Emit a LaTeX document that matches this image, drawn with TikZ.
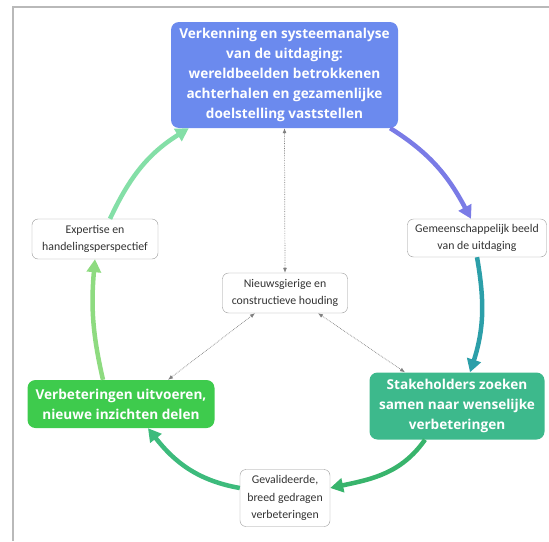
\documentclass[tikz,border=0pt]{standalone}
\usepackage{fontspec}
\setmainfont{Carlito}
\newfontfamily\boldsans{Open Sans Bold}
\usetikzlibrary{arrows.meta}

\definecolor{topblue}{HTML}{6B8AEE}
\definecolor{stakegreen}{HTML}{3DB98C}
\definecolor{doegreen}{HTML}{3ECB4D}
\definecolor{arrowA}{HTML}{7A7BE6}
\definecolor{arrowB}{HTML}{2C9FA9}
\definecolor{arrowC}{HTML}{38B46C}
\definecolor{arrowD}{HTML}{3DBB7C}
\definecolor{arrowE}{HTML}{8EDB80}
\definecolor{arrowF}{HTML}{84DFA7}

\begin{document}
\begin{tikzpicture}[x=1pt,y=1pt,
  bigbox/.style={rounded corners=8pt,text=white,align=center,inner sep=2pt,
    font=\boldsans\fontsize{13.6}{19.8}\selectfont},
  smallbox/.style={draw=gray!80,rounded corners=6pt,fill=white,align=center,
    text=black!80,inner sep=2pt,font=\fontsize{11.8}{17.5}\selectfont},
  cycle/.style={line width=4.5pt,-{Triangle[length=13pt,width=14pt]}},
  hint/.style={gray,densely dotted,line width=0.7pt,{Latex[length=5pt,width=4pt]}-{Latex[length=5pt,width=4pt]}}]
  \useasboundingbox (0,0) rectangle (549,-541);
  \draw[gray!55,line width=1.2pt] (13,-541) -- (13,-7) -- (549,-7);

  \node[bigbox,fill=topblue,minimum width=227,minimum height=106] (verkenning) at (284.5,-75)
    {Verkenning en systeemanalyse\\van de uitdaging:\\wereldbeelden betrokkenen\\achterhalen en gezamenlijke\\doelstelling vaststellen};
  \node[smallbox,minimum width=139,minimum height=38] (beeld) at (477,-238)
    {Gemeenschappelijk beeld\\van de uitdaging};
  \node[bigbox,fill=stakegreen,minimum width=175,minimum height=67] (stakeholders) at (457,-406)
    {Stakeholders zoeken\\samen naar wenselijke\\verbeteringen};
  \node[smallbox,minimum width=90,minimum height=57] (gevalideerd) at (285,-498)
    {Gevalideerde,\\breed gedragen\\verbeteringen};
  \node[bigbox,fill=doegreen,minimum width=187,minimum height=48] (uitvoeren) at (121,-404)
    {Verbeteringen uitvoeren,\\nieuwe inzichten delen};
  \node[smallbox,minimum width=126,minimum height=40] (expertise) at (95,-239)
    {Expertise en\\handelingsperspectief};
  \node[smallbox,minimum width=125,minimum height=40] (houding) at (285,-293)
    {Nieuwsgierige en\\constructieve houding};

  \draw[cycle,arrowA] ([xshift=-8pt]verkenning.south east) to[out=-32,in=118] ([xshift=-6pt]beeld.north);
  \draw[cycle,arrowB] (beeld.south) to[out=-80,in=72] ([xshift=13pt]stakeholders.north);
  \draw[cycle,arrowC] ([xshift=-32pt]stakeholders.south) to[out=-125,in=12] ([yshift=10pt]gevalideerd.east);
  \draw[cycle,arrowD] ([yshift=10pt]gevalideerd.west) to[out=170,in=-52] ([xshift=27pt]uitvoeren.south);
  \draw[cycle,arrowE] ([xshift=-18pt]uitvoeren.north) to[out=103,in=-95] (expertise.south);
  \draw[cycle,arrowF] ([xshift=15pt]expertise.north) to[out=65,in=-148] ([xshift=18pt]verkenning.south west);

  \draw[hint] (verkenning.south) -- (houding.north);
  \draw[hint] ([xshift=-30pt]houding.south) -- ([xshift=47pt]uitvoeren.north);
  \draw[hint] ([xshift=33pt]houding.south) -- ([xshift=-52pt]stakeholders.north);
\end{tikzpicture}
\end{document}
